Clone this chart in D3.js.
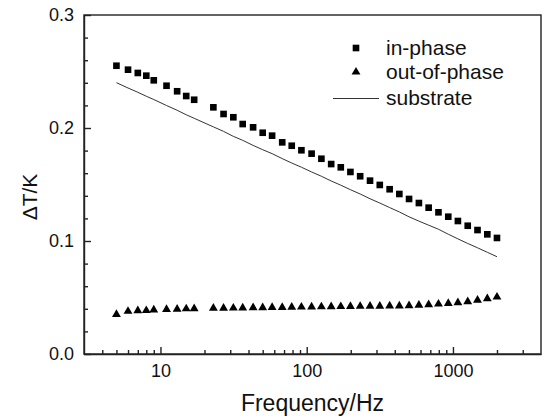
<!DOCTYPE html>
<html>
<head>
<meta charset="utf-8">
<script src="https://cdn.jsdelivr.net/npm/d3@7"></script>
<style>
  body { margin: 0; background: #fff; }
  svg { display: block; font-family: "Liberation Sans", Arial, sans-serif; }
</style>
</head>
<body>
<div id="chart"></div>
<script>
// frequencies (Hz) of the measurement points
const freq = [5, 6, 7, 8, 9, 11, 13, 15, 17,
    23, 27, 31.5, 36.5, 43, 50, 58, 68, 79, 92, 108, 126, 147, 171, 199, 232, 271, 316,
    369, 430, 501, 585, 682, 796, 929, 1081, 1262, 1472, 1718, 2000];

const inPhase = [0.2551, 0.2516, 0.2487, 0.2463, 0.2422, 0.2374, 0.2325, 0.2283, 0.2250,
    0.2183, 0.2124, 0.2095, 0.2035, 0.2006, 0.1958, 0.1932, 0.1873, 0.1843, 0.1803, 0.1773,
    0.1728, 0.1681, 0.1652, 0.1611, 0.1573, 0.1534, 0.1496, 0.1458, 0.1416, 0.1372, 0.1336,
    0.1295, 0.1254, 0.1215, 0.1177, 0.1135, 0.1097, 0.1059, 0.1027];

const outPhase = [0.0350, 0.0378, 0.0383, 0.0385, 0.0390, 0.0395, 0.0397, 0.0400, 0.0401,
    0.0405, 0.0405, 0.0407, 0.0408, 0.0410, 0.0410, 0.0412, 0.0413, 0.0415, 0.0416, 0.0417,
    0.0418, 0.0419, 0.0420, 0.0421, 0.0422, 0.0423, 0.0424, 0.0425, 0.0426, 0.0428, 0.0432,
    0.0437, 0.0442, 0.0448, 0.0455, 0.0464, 0.0477, 0.0490, 0.0504];

const substrate = [0.2401, 0.2354, 0.2316, 0.2281, 0.2252, 0.2199, 0.2157, 0.2117, 0.2086,
    0.2010, 0.1970, 0.1926, 0.1891, 0.1846, 0.1808, 0.1773, 0.1729, 0.1690, 0.1653, 0.1611,
    0.1573, 0.1531, 0.1494, 0.1454, 0.1416, 0.1374, 0.1336, 0.1296, 0.1257, 0.1214, 0.1176,
    0.1140, 0.1104, 0.1060, 0.1019, 0.0978, 0.0940, 0.0900, 0.0861];

const xMajor = [10, 100, 1000];
const xMinor = [4, 5, 6, 7, 8, 9, 20, 30, 40, 50, 60, 70, 80, 90,
    200, 300, 400, 500, 600, 700, 800, 900, 2000, 3000];
const yMajor = [0.0, 0.1, 0.2, 0.3];
const yMinor = [0.02, 0.04, 0.06, 0.08, 0.12, 0.14, 0.16, 0.18, 0.22, 0.24, 0.26, 0.28];

const svg = d3.select("#chart").append("svg")
    .attr("width", 544)
    .attr("height", 416);

const margin = { top: 15, right: 3, bottom: 62, left: 84 },
    W = 544, H = 416;

const x = d3.scaleLog()
    .domain([3, 4000])
    .range([margin.left, W - margin.right]);

const y = d3.scaleLinear()
    .domain([0, 0.3])
    .range([H - margin.bottom, margin.top]);

const axisColor = "#222";

// x axis, ticks pointing inward
const gx = svg.append("g")
    .attr("transform", `translate(0,${H - margin.bottom})`)
    .call(d3.axisBottom(x).tickValues(xMajor).tickFormat(d3.format("d"))
        .tickSizeInner(-7).tickSizeOuter(0).tickPadding(10));
gx.selectAll("text").attr("font-size", 18).attr("fill", "#111").attr("font-family", null);

svg.append("g")
    .attr("transform", `translate(0,${H - margin.bottom})`)
    .call(d3.axisBottom(x).tickValues(xMinor).tickFormat("")
        .tickSizeInner(-4).tickSizeOuter(0))
    .select(".domain").remove();

// y axis
const gy = svg.append("g")
    .attr("transform", `translate(${margin.left},0)`)
    .call(d3.axisLeft(y).tickValues(yMajor).tickFormat(d3.format(".1f"))
        .tickSizeInner(-7).tickSizeOuter(0).tickPadding(10));
gy.selectAll("text").attr("font-size", 18).attr("fill", "#111").attr("font-family", null);

svg.append("g")
    .attr("transform", `translate(${margin.left},0)`)
    .call(d3.axisLeft(y).tickValues(yMinor).tickFormat("")
        .tickSizeInner(-4).tickSizeOuter(0))
    .select(".domain").remove();

svg.selectAll(".domain, .tick line")
    .attr("stroke", axisColor)
    .attr("stroke-width", 1.4);

// frame
svg.append("rect")
    .attr("x", margin.left)
    .attr("y", margin.top)
    .attr("width", W - margin.right - margin.left)
    .attr("height", H - margin.bottom - margin.top)
    .attr("fill", "none")
    .attr("stroke", axisColor)
    .attr("stroke-width", 1.4);

// substrate line
svg.append("path")
    .datum(freq.map((f, i) => [f, substrate[i]]))
    .attr("fill", "none")
    .attr("stroke", "#333")
    .attr("stroke-width", 1)
    .attr("d", d3.line().x(d => x(d[0])).y(d => y(d[1])));

const square = d3.symbol(d3.symbolSquare, 44)();
const triangle = d3.symbol(d3.symbolTriangle, 34)();

svg.append("g").selectAll("path")
    .data(freq.map((f, i) => [f, inPhase[i]]))
    .join("path")
    .attr("d", square)
    .attr("transform", d => `translate(${x(d[0])},${y(d[1])})`)
    .attr("fill", "#000");

svg.append("g").selectAll("path")
    .data(freq.map((f, i) => [f, outPhase[i]]))
    .join("path")
    .attr("d", triangle)
    .attr("transform", d => `translate(${x(d[0])},${y(d[1])})`)
    .attr("fill", "#000");

// axis titles
svg.append("text")
    .attr("x", (margin.left + W - margin.right) / 2)
    .attr("y", 411)
    .attr("text-anchor", "middle")
    .attr("font-size", 23)
    .attr("fill", "#111")
    .text("Frequency/Hz");

svg.append("text")
    .attr("transform", "translate(37,197) rotate(-90)")
    .attr("text-anchor", "middle")
    .attr("font-size", 21)
    .attr("fill", "#111")
    .text("ΔT/K");

// legend
const legend = svg.append("g").attr("font-size", 21).attr("fill", "#111");
legend.append("path").attr("d", square).attr("transform", "translate(356,48)").attr("fill", "#000");
legend.append("text").attr("x", 386).attr("y", 55).text("in-phase");
legend.append("path").attr("d", triangle).attr("transform", "translate(356,72)").attr("fill", "#000");
legend.append("text").attr("x", 386).attr("y", 79).text("out-of-phase");
legend.append("line").attr("x1", 333).attr("x2", 379).attr("y1", 98.5).attr("y2", 98.5)
    .attr("stroke", "#333").attr("stroke-width", 1);
legend.append("text").attr("x", 386).attr("y", 105).text("substrate");
</script>
</body>
</html>
